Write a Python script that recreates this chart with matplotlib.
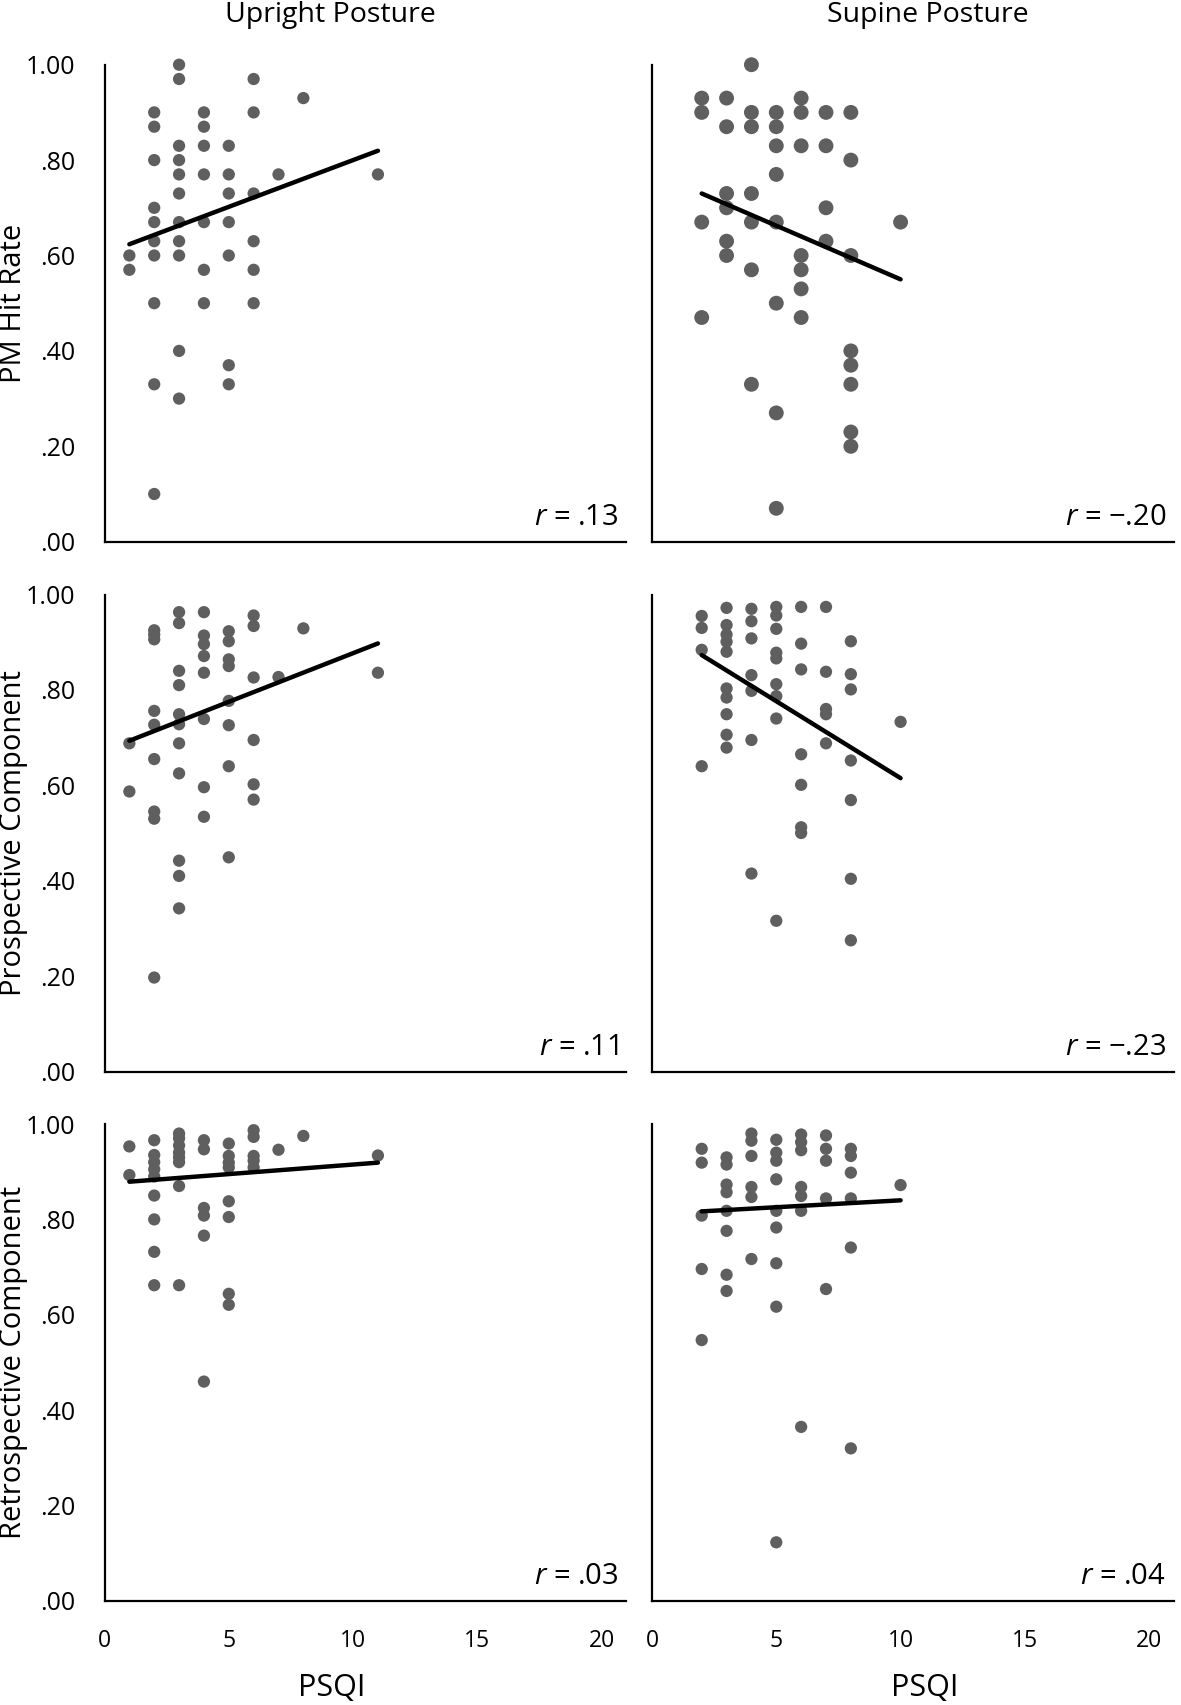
import numpy as np
import matplotlib
matplotlib.use("Agg")
import matplotlib.pyplot as plt

plt.rcParams['font.family'] = ['Open Sans', 'DejaVu Sans']
plt.rcParams['mathtext.fontset'] = 'custom'
plt.rcParams['mathtext.rm'] = 'Open Sans'
plt.rcParams['mathtext.it'] = 'Open Sans:italic'

# PSQI score (x) and proportion (y) per panel
up_pm_x = [1, 1,
           2, 2, 2, 2, 2, 2, 2, 2, 2, 2,
           3, 3, 3, 3, 3, 3, 3, 3, 3, 3, 3,
           4, 4, 4, 4, 4, 4, 4,
           5, 5, 5, 5, 5, 5, 5,
           6, 6, 6, 6, 6, 6,
           7, 8, 11]
up_pm_y = [.60, .57,
           .90, .87, .80, .70, .67, .63, .60, .50, .33, .10,
           1.00, .97, .83, .80, .77, .73, .67, .63, .60, .40, .30,
           .90, .87, .83, .77, .67, .57, .50,
           .83, .77, .73, .67, .60, .37, .33,
           .97, .90, .73, .63, .57, .50,
           .77, .93, .77]

sup_pm_x = [2, 2, 2, 2,
            3, 3, 3, 3, 3, 3,
            4, 4, 4, 4, 4, 4, 4,
            5, 5, 5, 5, 5, 5, 5, 5,
            6, 6, 6, 6, 6, 6, 6,
            7, 7, 7, 7,
            8, 8, 8, 8, 8, 8, 8, 8,
            10]
sup_pm_y = [.93, .90, .67, .47,
            .93, .87, .73, .70, .63, .60,
            1.00, .90, .87, .73, .67, .57, .33,
            .90, .87, .83, .77, .67, .50, .27, .07,
            .93, .90, .83, .60, .57, .53, .47,
            .90, .83, .70, .63,
            .90, .80, .60, .40, .37, .33, .23, .20,
            .67]

up_pro_x = [1, 1,
            2, 2, 2, 2, 2, 2, 2, 2, 2,
            3, 3, 3, 3, 3, 3, 3, 3, 3, 3, 3,
            4, 4, 4, 4, 4, 4, 4, 4,
            5, 5, 5, 5, 5, 5, 5, 5,
            6, 6, 6, 6, 6, 6,
            7, 8, 11]
up_pro_y = [.688, .587,
            .925, .916, .906, .756, .727, .655, .545, .530, .197,
            .963, .940, .840, .810, .749, .728, .688, .625, .442, .410, .342,
            .963, .914, .896, .871, .836, .739, .596, .534,
            .923, .902, .864, .850, .777, .726, .640, .449,
            .956, .934, .826, .695, .602, .570,
            .827, .929, .836]

sup_pro_x = [2, 2, 2, 2,
             3, 3, 3, 3, 3, 3, 3, 3, 3, 3,
             4, 4, 4, 4, 4, 4, 4,
             5, 5, 5, 5, 5, 5, 5, 5, 5,
             6, 6, 6, 6, 6, 6, 6,
             7, 7, 7, 7, 7,
             8, 8, 8, 8, 8, 8, 8,
             10]
sup_pro_y = [.955, .930, .884, .640,
             .972, .936, .916, .901, .880, .803, .784, .749, .706, .679,
             .970, .944, .908, .831, .798, .695, .415,
             .974, .956, .928, .878, .866, .812, .787, .740, .316,
             .974, .897, .843, .665, .601, .512, .500,
             .974, .838, .760, .749, .688,
             .902, .833, .801, .652, .569, .404, .275,
             .733]

up_ret_x = [1, 1,
            2, 2, 2, 2, 2, 2, 2, 2, 2,
            3, 3, 3, 3, 3, 3, 3, 3,
            4, 4, 4, 4, 4, 4,
            5, 5, 5, 5, 5, 5, 5, 5,
            6, 6, 6, 6, 6,
            7, 8, 11]
up_ret_y = [.953, .893,
            .966, .935, .920, .905, .890, .850, .800, .732, .662,
            .980, .970, .955, .940, .930, .920, .870, .662,
            .966, .947, .824, .808, .766, .460,
            .959, .933, .919, .909, .838, .805, .644, .621,
            .987, .973, .933, .923, .909,
            .946, .975, .934]

sup_ret_x = [2, 2, 2, 2, 2,
             3, 3, 3, 3, 3, 3, 3, 3,
             4, 4, 4, 4, 4, 4,
             5, 5, 5, 5, 5, 5, 5, 5, 5,
             6, 6, 6, 6, 6, 6, 6,
             7, 7, 7, 7, 7,
             8, 8, 8, 8, 8, 8,
             10]
sup_ret_y = [.948, .919, .808, .696, .547,
             .930, .915, .873, .857, .818, .776, .684, .650,
             .980, .965, .933, .868, .847, .717,
             .967, .940, .923, .884, .818, .783, .708, .617, .123,
             .978, .962, .945, .868, .849, .818, .365,
             .976, .948, .923, .844, .654,
             .948, .933, .898, .844, .741, .320,
             .872]

# trend lines as printed (intercept, slope), rows x [upright, supine]
trend_intercept = [[.604, .775], [.673, .9375], [.875, .811]]
trend_slope = [[.0196, -.0225], [.0204, -.03225], [.004, .0029]]

col_titles = ['Upright Posture', 'Supine Posture']
row_labels = ['PM Hit Rate', 'Prospective Component', 'Retrospective Component']
r_texts = [['.13', '\u2212.20'], ['.11', '\u2212.23'], ['.03', '.04']]
ytick_vals = [0, .2, .4, .6, .8, 1.0]
ytick_labels = ['.00', '.20', '.40', '.60', '.80', '1.00']
xtick_vals = [0, 5, 10, 15, 20]

panels = [[(up_pm_x, up_pm_y), (sup_pm_x, sup_pm_y)],
          [(up_pro_x, up_pro_y), (sup_pro_x, sup_pro_y)],
          [(up_ret_x, up_ret_y), (sup_ret_x, sup_ret_y)]]

W, H = 1181, 1705
fig = plt.figure(figsize=(W / 100, H / 100), dpi=100)

dot = '#5f5f5f'
col_left = [104.5, 652]
row_bottom = [541.7, 1071.5, 1601]
ax_w, ax_h = 522, 477

for i in range(3):
    for j in range(2):
        ax = fig.add_axes([col_left[j] / W, (H - row_bottom[i]) / H, ax_w / W, ax_h / H])
        xs, ys = np.array(panels[i][j][0], float), np.array(panels[i][j][1], float)
        size = 115 if (i == 0 and j == 1) else 78
        ax.scatter(xs, ys, s=size, color=dot, edgecolors='none', zorder=2, clip_on=False)
        # trend line across the data range
        xl = np.array([xs.min(), xs.max()])
        ax.plot(xl, trend_intercept[i][j] + trend_slope[i][j] * xl, color='black',
                lw=3.2, solid_capstyle='round', zorder=3)

        ax.set_xlim(0, 21)
        ax.set_ylim(0, 1)
        for s in ['top', 'right']:
            ax.spines[s].set_visible(False)
        for s in ['left', 'bottom']:
            ax.spines[s].set_linewidth(1.6)
            ax.spines[s].set_color('black')
        ax.tick_params(length=0)
        ax.set_yticks(ytick_vals)
        if j == 0:
            ax.set_yticklabels(ytick_labels, fontsize=18)
            ax.tick_params(axis='y', pad=21)
        else:
            ax.set_yticklabels([])
        ax.set_xticks(xtick_vals)
        if i == 2:
            ax.set_xticklabels([str(v) for v in xtick_vals], fontsize=16.5)
            ax.tick_params(axis='x', pad=20)
        else:
            ax.set_xticklabels([])
        ax.text(0.985, 0.035, '$r$ = ' + r_texts[i][j], transform=ax.transAxes,
                ha='right', va='baseline', fontsize=21)

for j, t in enumerate(col_titles):
    fig.text([330, 928][j] / W, 1 - 15 / H, t, ha='center', va='center', fontsize=20.5)
    fig.text([332, 925][j] / W, 1 - 1688 / H, 'PSQI', ha='center', va='center', fontsize=22)

for i, t in enumerate(row_labels):
    yc = row_bottom[i] - ax_h / 2
    fig.text(14 / W, 1 - yc / H, t, rotation=90, ha='center', va='center', fontsize=21)

fig.savefig('out.png', dpi=100, facecolor='white')
